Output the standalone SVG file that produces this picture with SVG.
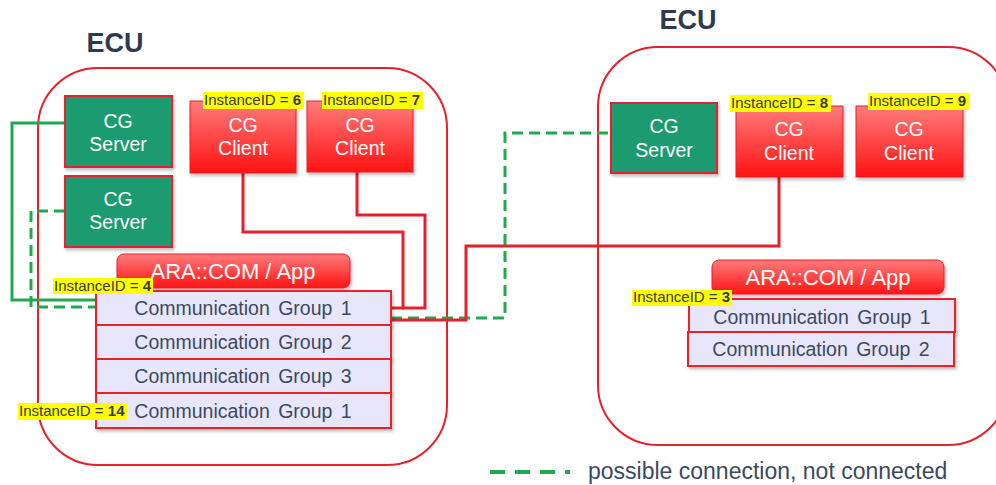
<svg xmlns="http://www.w3.org/2000/svg" width="996" height="485" viewBox="0 0 996 485">
<defs>
<linearGradient id="redg" x1="0" y1="0" x2="0" y2="1">
<stop offset="0" stop-color="#ff7c7c"/>
<stop offset="1" stop-color="#ff1212"/>
</linearGradient>
<filter id="sh" x="-10%" y="-10%" width="130%" height="140%">
<feDropShadow dx="1.5" dy="2.5" stdDeviation="1.5" flood-color="#000" flood-opacity="0.25"/>
</filter>
<style>
.ecu{fill:#fff;stroke:#e8202a;stroke-width:2}
.title{font-family:"Liberation Sans",Arial,sans-serif;font-size:27px;font-weight:bold;fill:#2e3a4f;text-anchor:middle}
.srv{fill:#1b9a70;stroke:#e8202a;stroke-width:2;filter:url(#sh)}
.cli{fill:url(#redg);stroke:#e8202a;stroke-width:1;filter:url(#sh)}
.ara{fill:url(#redg);stroke:#e8202a;stroke-width:1;filter:url(#sh)}
.cg{fill:#e8e6fb;stroke:#e8202a;stroke-width:2;filter:url(#sh)}
.wt{font-family:"Liberation Sans",Arial,sans-serif;font-size:19.5px;fill:#fff;text-anchor:middle}
.at{font-family:"Liberation Sans",Arial,sans-serif;font-size:22px;fill:#fff;text-anchor:middle}
.ct{font-family:"Liberation Sans",Arial,sans-serif;font-size:19.5px;fill:#3b4a5e;text-anchor:middle;word-spacing:3px}
.hl{fill:#ffff00}
.it{font-family:"Liberation Sans",Arial,sans-serif;font-size:15px;fill:#3a3a3a}
.it tspan{font-weight:bold}
.red{fill:none;stroke:#e8202a;stroke-width:3}
.gs{fill:none;stroke:#1faa4f;stroke-width:3}
.gd{fill:none;stroke:#1faa4f;stroke-width:3;stroke-dasharray:11 6}
.lg{font-family:"Liberation Sans",Arial,sans-serif;font-size:23px;fill:#3a4a5c}
</style>
</defs>
<rect width="996" height="485" fill="#fff"/>

<g id="ecu-left">
<rect class="ecu" x="38" y="68" width="409" height="397" rx="60"/>
<text class="title" x="115" y="52">ECU</text>
</g>
<g id="ecu-right">
<rect class="ecu" x="598" y="47" width="410" height="398" rx="60"/>
<text class="title" x="688" y="29">ECU</text>
</g>

<g id="connectors">
<polyline class="gs" points="65,123 12,123 12,300 96,300"/>
<polyline class="gd" points="65,211 31,211 31,307 96,307"/>
<polyline class="gd" points="391,318 505,318 505,133 611,133"/>
<polyline class="red" points="243,173 243,232 403,232 403,308 391,308"/>
<polyline class="red" points="357,172 357,215 425,215 425,308 403,308"/>
<polyline class="red" points="391,320 466,320 466,246 779,246 779,177"/>
</g>

<g id="cg-server-1">
<rect class="srv" x="65" y="96" width="107" height="71"/>
<text class="wt" x="118" y="128">CG</text>
<text class="wt" x="118" y="151">Server</text>
</g>
<g id="cg-server-2">
<rect class="srv" x="65" y="176" width="107" height="71"/>
<text class="wt" x="118" y="206">CG</text>
<text class="wt" x="118" y="229">Server</text>
</g>
<g id="cg-client-6">
<rect class="cli" x="190" y="101" width="106" height="72"/>
<text class="wt" x="243" y="132">CG</text>
<text class="wt" x="243" y="155">Client</text>
<rect class="hl" x="203" y="92" width="101" height="17"/>
<text class="it" x="204" y="105">InstanceID = <tspan>6</tspan></text>
</g>
<g id="cg-client-7">
<rect class="cli" x="307" y="101" width="106" height="71"/>
<text class="wt" x="360" y="132">CG</text>
<text class="wt" x="360" y="155">Client</text>
<rect class="hl" x="322" y="92" width="101" height="17"/>
<text class="it" x="323" y="105">InstanceID = <tspan>7</tspan></text>
</g>
<g id="ara-left">
<rect class="ara" x="117" y="254" width="233" height="34" rx="7"/>
<text class="at" x="233" y="279">ARA::COM / App</text>
</g>
<g id="cg-left-1">
<rect class="cg" x="96" y="291" width="295" height="34"/>
<text class="ct" x="243" y="315">Communication Group 1</text>
<rect class="hl" x="53" y="278" width="100" height="16"/>
<text class="it" x="54" y="291">InstanceID = <tspan>4</tspan></text>
</g>
<g id="cg-left-2">
<rect class="cg" x="96" y="325" width="295" height="34"/>
<text class="ct" x="243" y="349">Communication Group 2</text>
</g>
<g id="cg-left-3">
<rect class="cg" x="96" y="359" width="295" height="34"/>
<text class="ct" x="243" y="383">Communication Group 3</text>
</g>
<g id="cg-left-4">
<rect class="cg" x="96" y="393" width="295" height="35"/>
<text class="ct" x="243" y="418">Communication Group 1</text>
<rect class="hl" x="18" y="403" width="109" height="17"/>
<text class="it" x="19" y="416">InstanceID = <tspan>14</tspan></text>
</g>

<g id="cg-server-right">
<rect class="srv" x="611" y="103" width="106" height="70"/>
<text class="wt" x="664" y="133">CG</text>
<text class="wt" x="664" y="157">Server</text>
</g>
<g id="cg-client-8">
<rect class="cli" x="736" y="106" width="107" height="71"/>
<text class="wt" x="789" y="136">CG</text>
<text class="wt" x="789" y="160">Client</text>
<rect class="hl" x="730" y="95" width="101" height="17"/>
<text class="it" x="731" y="108">InstanceID = <tspan>8</tspan></text>
</g>
<g id="cg-client-9">
<rect class="cli" x="856" y="106" width="107" height="71"/>
<text class="wt" x="909" y="136">CG</text>
<text class="wt" x="909" y="160">Client</text>
<rect class="hl" x="868" y="93" width="101" height="17"/>
<text class="it" x="869" y="106">InstanceID = <tspan>9</tspan></text>
</g>
<g id="ara-right">
<rect class="ara" x="712" y="260" width="232" height="34" rx="7"/>
<text class="at" x="828" y="285">ARA::COM / App</text>
</g>
<g id="cg-right-1">
<rect class="cg" x="689" y="299" width="266" height="33"/>
<text class="ct" x="822" y="324">Communication Group 1</text>
<rect class="hl" x="632" y="290" width="100" height="16"/>
<text class="it" x="633" y="302">InstanceID = <tspan>3</tspan></text>
</g>
<g id="cg-right-2">
<rect class="cg" x="688" y="332" width="266" height="34"/>
<text class="ct" x="821" y="356">Communication Group 2</text>
</g>

<g id="legend">
<line x1="490" y1="472" x2="570" y2="472" stroke="#1faa4f" stroke-width="4" stroke-dasharray="15 10"/>
<text class="lg" x="588" y="479">possible connection, not connected</text>
</g>
</svg>
